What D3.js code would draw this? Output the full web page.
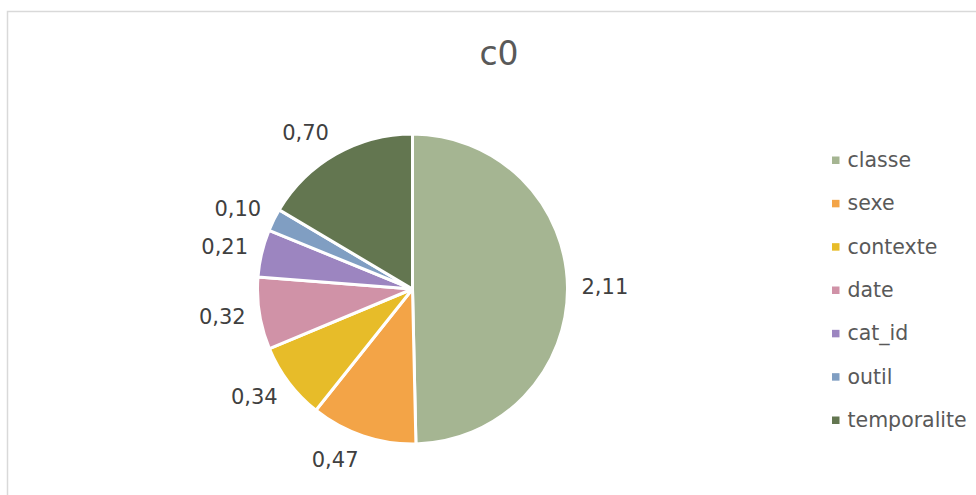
<!DOCTYPE html>
<html>
<head>
<meta charset="utf-8">
<script src="https://cdn.jsdelivr.net/npm/d3@7"></script>
<style>
  html, body { margin: 0; padding: 0; background: #fff; }
  svg { display: block; font-family: "DejaVu Sans", sans-serif; }
</style>
</head>
<body>
<div id="chart"></div>
<script>
// chart data
const title = 'c0';
const categories = ['classe', 'sexe', 'contexte', 'date', 'cat_id', 'outil', 'temporalite'];
const values = [2.11, 0.47, 0.34, 0.32, 0.21, 0.10, 0.70];
const colors = ['#A5B592', '#F3A447', '#E7BC29', '#D092A7', '#9C85C0', '#809EC2', '#637650'];

const width = 976, height = 495;
const center = { x: 412.5, y: 289 };
const radius = 155;

const svg = d3.select('#chart').append('svg')
  .attr('width', width)
  .attr('height', height);

// chart area border (runs off the right and bottom of the window)
svg.append('rect')
  .attr('x', 7.5).attr('y', 11.5)
  .attr('width', width + 20).attr('height', height + 20)
  .attr('fill', 'none')
  .attr('stroke', '#d9d9d9')
  .attr('stroke-width', 1.5);

svg.append('text')
  .attr('x', 499).attr('y', 65)
  .attr('text-anchor', 'middle')
  .attr('font-size', 33)
  .attr('fill', '#595959')
  .text(title);

const data = categories.map((c, i) => ({ name: c, value: values[i], color: colors[i] }));

const pie = d3.pie().value(d => d.value).sort(null);
const arc = d3.arc().innerRadius(0).outerRadius(radius);
const arcs = pie(data);

const g = svg.append('g')
  .attr('transform', `translate(${center.x},${center.y})`);

g.selectAll('path')
  .data(arcs)
  .enter()
  .append('path')
  .attr('d', arc)
  .attr('fill', d => d.data.color)
  .attr('stroke', '#fff')
  .attr('stroke-width', 3)
  .attr('stroke-linejoin', 'round');

// value labels, placed just outside the slice like Excel's "outside end"
const fmt = v => d3.format('.2f')(v).replace('.', ',');
const labelGap = 14;
const labelH = 22;

const labels = g.selectAll('text.lbl')
  .data(arcs)
  .enter()
  .append('text')
  .attr('class', 'lbl')
  .attr('font-size', 21)
  .attr('fill', '#404040')
  .attr('text-anchor', 'middle')
  .attr('dominant-baseline', 'central')
  .text(d => fmt(d.data.value));

labels.each(function(d) {
  const w = this.getComputedTextLength();
  const a = (d.startAngle + d.endAngle) / 2;
  const s = Math.sin(a), c = -Math.cos(a);
  const px = s * (radius + labelGap);
  const py = c * (radius + labelGap);
  d3.select(this)
    .attr('x', px + Math.sign(s) * w / 2)
    .attr('y', py + c * labelH / 2);
});

// legend
const legendY = d3.scalePoint()
  .domain(categories)
  .range([160, 420]);

const legend = svg.append('g');
const items = legend.selectAll('g')
  .data(data)
  .enter()
  .append('g')
  .attr('transform', d => `translate(832,${legendY(d.name)})`);

items.append('rect')
  .attr('x', 0).attr('y', -3.5)
  .attr('width', 7.5).attr('height', 7.5)
  .attr('fill', d => d.color);

items.append('text')
  .attr('x', 15.5)
  .attr('dominant-baseline', 'central')
  .attr('font-size', 20.5)
  .attr('fill', '#595959')
  .text(d => d.name);
</script>
</body>
</html>
